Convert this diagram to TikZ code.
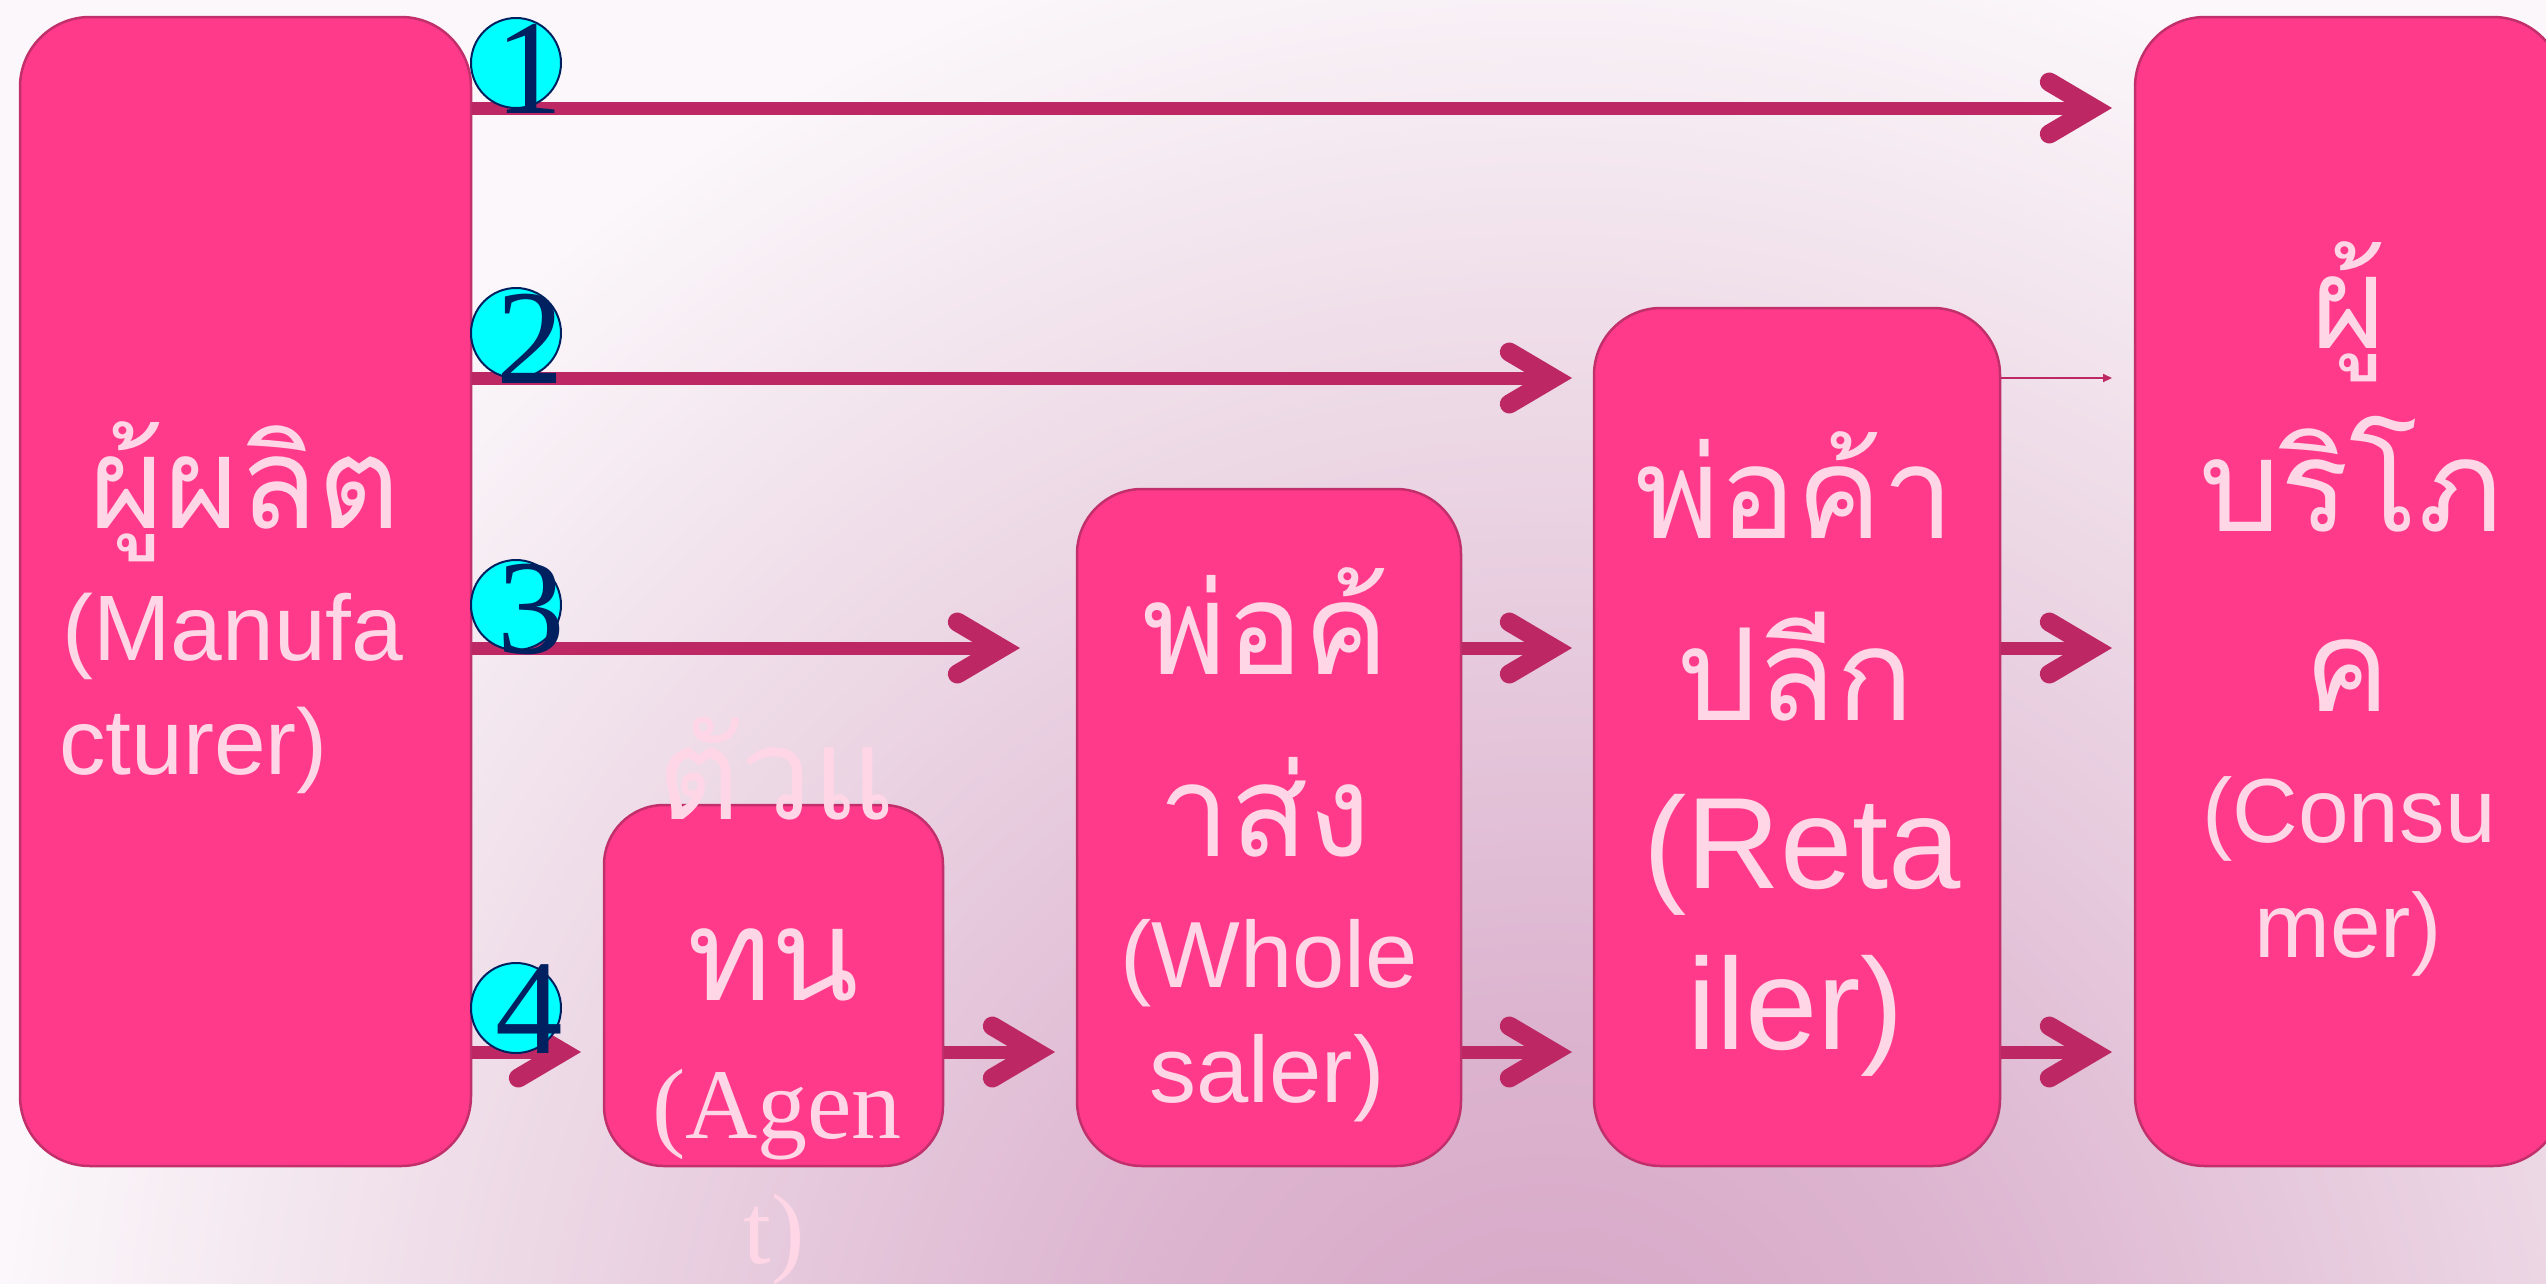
\documentclass[tikz,border=0pt]{standalone}
\usepackage{fontspec}
\usetikzlibrary{arrows.meta}
\newfontfamily\thaifont[Script=Thai]{Loma}
\newfontfamily\arialfont{Liberation Sans}
\newfontfamily\seriffont{Liberation Serif}
\definecolor{boxfill}{HTML}{FF3A8A}
\definecolor{boxline}{HTML}{C2306C}
\definecolor{arrowc}{HTML}{BD2864}
\definecolor{txtpink}{HTML}{FFD6E6}
\definecolor{navyc}{HTML}{002060}
\definecolor{cyanc}{HTML}{00FFFF}
\definecolor{bgA}{HTML}{D5A5C5}
\definecolor{bgB}{HTML}{DDB5D0}
\definecolor{bgC}{HTML}{EDD9E6}
\definecolor{bgD}{HTML}{FBF7FA}
\pgfdeclareradialshading{bgshade}{\pgfpoint{0bp}{0bp}}{color(0bp)=(bgA); color(450bp)=(bgB); color(1050bp)=(bgC); color(1550bp)=(bgD); color(2600bp)=(bgD)}
\tikzset{
  box/.style={rectangle, draw=boxline, line width=2.5pt, fill=boxfill, rounded corners=70pt, inner sep=0pt},
  flow/.style={draw=arrowc, line width=13pt, -{Straight Barb[length=44pt, width=52pt, line width=19pt, line cap=round, line join=miter]}},
  thinflow/.style={draw=arrowc, line width=2pt, -{Triangle[length=9pt, width=8pt]}},
  numc/.style={circle, fill=cyanc, draw=navyc, line width=2pt, minimum size=90pt, inner sep=0pt},
  digit/.style={font=\seriffont\fontsize{135}{135}\selectfont, text=navyc, anchor=base, inner sep=0pt},
  thaiT/.style={font=\thaifont\fontsize{128}{150}\selectfont, text=txtpink, inner sep=0pt, anchor=base},
  latT/.style={font=\arialfont\fontsize{#1}{#1}\selectfont, text=txtpink, inner sep=0pt, anchor=base},
  serT/.style={font=\seriffont\fontsize{#1}{#1}\selectfont, text=txtpink, inner sep=0pt, anchor=base}
}
\begin{document}
\begin{tikzpicture}[x=1pt, y=-1pt]
\useasboundingbox (0,0) rectangle (2546,1283);
\clip (0,0) rectangle (2546,1283);
\node[inner sep=0pt, outer sep=0pt] (bg) at (1550,1450) {\pgfuseshading{bgshade}};

% boxes
\node[box, minimum width=451pt, minimum height=1149pt] (mfr) at (245.5,591.5) {};
\node[box, rounded corners=60pt, minimum width=339pt, minimum height=361pt] (agt) at (773.5,985.5) {};
\node[box, rounded corners=65pt, minimum width=384pt, minimum height=677pt] (whl) at (1269,827.5) {};
\node[box, rounded corners=67pt, minimum width=406pt, minimum height=858pt] (ret) at (1797,737) {};
\node[box, minimum width=428pt, minimum height=1149pt] (con) at (2349,591.5) {};

% arrow tips
\coordinate (t1) at (2112,108);
\coordinate (t2) at (1572,378);
\coordinate (t3) at (1020,648);
\coordinate (t4) at (581,1052);
\coordinate (t5) at (1055,1052);
\coordinate (t6) at (1572,648);
\coordinate (t7) at (1572,1052);
\coordinate (t8) at (2112,378);
\coordinate (t9) at (2112,648);
\coordinate (t10) at (2112,1052);

\draw[flow] (mfr.east |- t1) -- (t1);
\draw[flow] (mfr.east |- t2) -- (t2);
\draw[flow] (mfr.east |- t3) -- (t3);
\draw[flow] (mfr.east |- t4) -- (t4);
\draw[flow] (agt.east |- t5) -- (t5);
\draw[flow] (whl.east |- t6) -- (t6);
\draw[flow] (whl.east |- t7) -- (t7);
\draw[thinflow] (ret.east |- t8) -- (t8);
\draw[flow] (ret.east |- t9) -- (t9);
\draw[flow] (ret.east |- t10) -- (t10);

% numbered circles
\node[numc] (c1) at (516,63) {};
\node[numc] (c2) at (516,333) {};
\node[numc] (c3) at (516,605) {};
\node[numc] (c4) at (516,1008) {};
\node[digit] (n1) at (529,113) {1};
\node[digit] (n2) at (530,383) {2};
\node[digit] (n3) at (531,653) {3};
\node[digit] (n4) at (529,1053) {4};

% manufacturer
\node[thaiT] (mfrA) at (245,528) {ผู้ผลิต};
\node[latT=93, anchor=base west] (mfrB) at (62,660) {(Manufa};
\node[latT=93, anchor=base west] (mfrC) at (59,774) {cturer)};

% agent
\node[thaiT] (agtA) at (776,819) {ตัวแ};
\node[thaiT] (agtB) at (773,1000) {ทน};
\node[serT=100] (agtC) at (777,1138) {(Agen};
\node[serT=100] (agtD) at (774,1263) {t)};

% wholesaler
\node[thaiT] (whlA) at (1266,674) {พ่อค้};
\node[thaiT] (whlB) at (1265,856) {าส่ง};
\node[latT=94] (whlC) at (1269,987) {(Whole};
\node[latT=94] (whlD) at (1267,1102) {saler)};

% retailer
\node[thaiT] (retA) at (1795,538) {พ่อค้า};
\node[thaiT] (retB) at (1795,720) {ปลีก};
\node[latT=130] (retC) at (1802,888) {(Reta};
\node[latT=130] (retD) at (1796,1049) {iler)};

% consumer
\node[thaiT] (conA) at (2349,348) {ผู้};
\node[thaiT] (conB) at (2351,531) {บริโภ};
\node[thaiT] (conC) at (2347,711) {ค};
\node[latT=91] (conD) at (2349,842) {(Consu};
\node[latT=91] (conE) at (2348,957) {mer)};
\end{tikzpicture}
\end{document}
